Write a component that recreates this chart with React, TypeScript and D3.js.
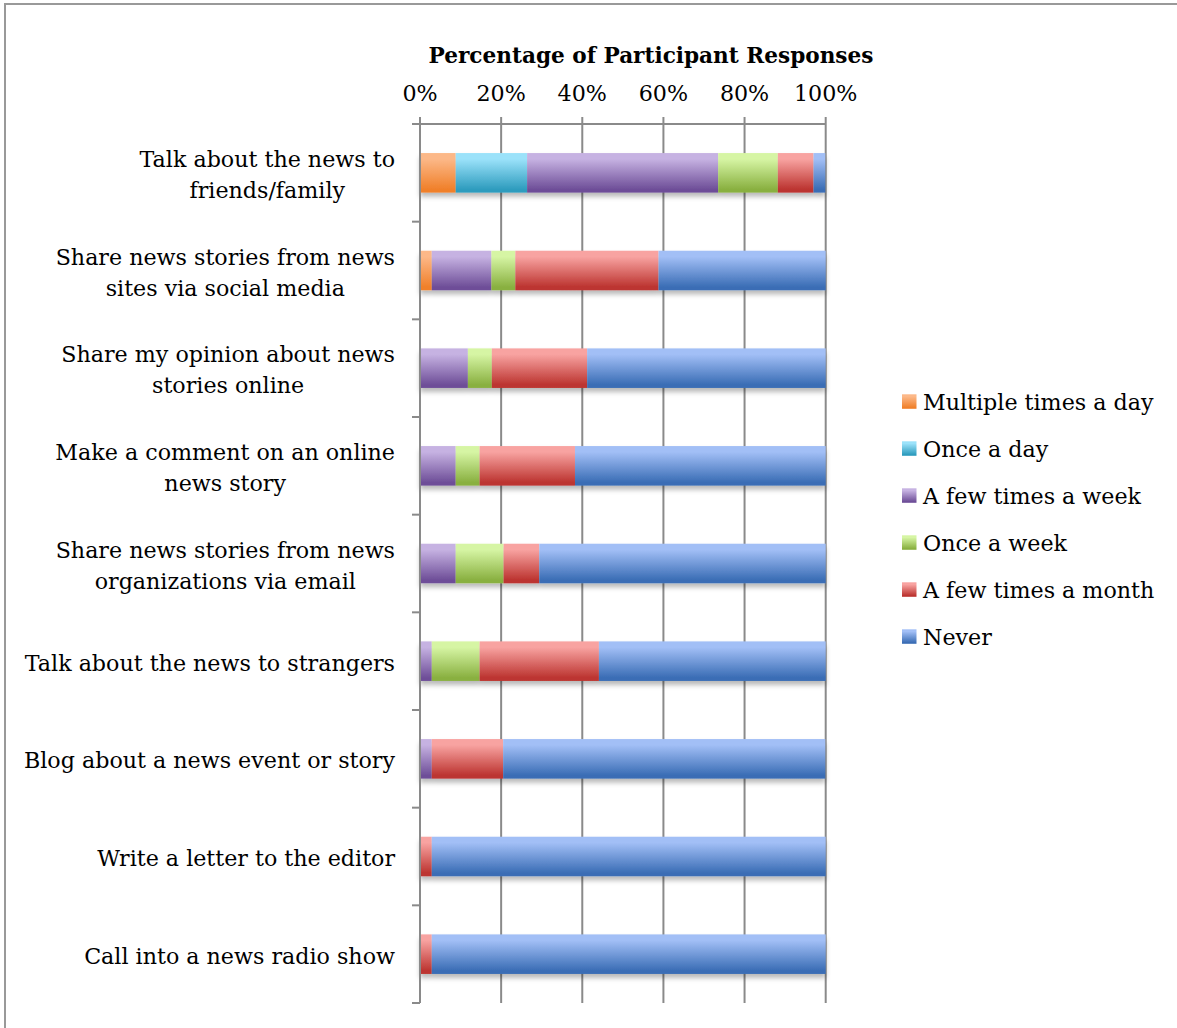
import React, { useEffect, useRef } from "react";
import * as d3 from "d3";

const categories = [
  "Talk about the news to friends/family",
  "Share news stories from news sites via social media",
  "Share my opinion about news stories online",
  "Make a comment on an online news story",
  "Share news stories from news organizations via email",
  "Talk about the news to strangers",
  "Blog about a news event or story",
  "Write a letter to the editor",
  "Call into a news radio show",
];

const labelLines = [
  ["Talk about the news to", "friends/family"],
  ["Share news stories from news", "sites via social media"],
  ["Share my opinion about news", "stories online"],
  ["Make a comment on an online", "news story"],
  ["Share news stories from news", "organizations via email"],
  ["Talk about the news to strangers"],
  ["Blog about a news event or story"],
  ["Write a letter to the editor"],
  ["Call into a news radio show"],
];

const seriesNames = [
  "Multiple times a day",
  "Once a day",
  "A few times a week",
  "Once a week",
  "A few times a month",
  "Never",
];

const multipleTimesADay = [8.8, 2.9, 0, 0, 0, 0, 0, 0, 0];
const onceADay = [17.6, 0, 0, 0, 0, 0, 0, 0, 0];
const aFewTimesAWeek = [47.1, 14.7, 11.8, 8.8, 8.8, 2.9, 2.9, 0, 0];
const onceAWeek = [14.7, 5.9, 5.9, 5.9, 11.8, 11.8, 0, 0, 0];
const aFewTimesAMonth = [8.8, 35.3, 23.5, 23.5, 8.8, 29.4, 17.6, 2.9, 2.9];
const never = [2.9, 41.2, 58.8, 61.8, 70.6, 55.9, 79.4, 97.1, 97.1];

const tickValues = [0, 20, 40, 60, 80, 100];

const colorTop = ["#FCB888", "#9BE2FA", "#C6B2E2", "#D6F5A4", "#F8A3A1", "#A2BFF6"];
const colorBottom = ["#F0802A", "#2E9CBE", "#6E4E98", "#89B040", "#BC3430", "#3A6DB5"];

const W = 1177;
const H = 1028;
const FONT = "'DejaVu Serif', serif";
const FS = 22.2;

export default function App() {
  const ref = useRef<SVGSVGElement | null>(null);

  useEffect(() => {
    const svg = d3.select(ref.current);
    svg.selectAll("*").remove();

    const seriesArrays = [multipleTimesADay, onceADay, aFewTimesAWeek, onceAWeek, aFewTimesAMonth, never];
    const rows = categories.map((c, i) => {
      const r: any = { category: c };
      seriesNames.forEach((s, j) => (r[s] = seriesArrays[j][i]));
      return r;
    });
    const stacked = d3.stack().keys(seriesNames)(rows);

    const x = d3.scaleLinear().domain([0, 100]).range([420, 825.7]);
    const y = d3
      .scaleBand<string>()
      .domain(categories)
      .range([124, 1003])
      .paddingInner(0.595)
      .paddingOuter(0.2975);

    const defs = svg.append("defs");
    seriesNames.forEach((s, j) => {
      const g = defs
        .append("linearGradient")
        .attr("id", "grad" + j)
        .attr("x1", 0)
        .attr("y1", 0)
        .attr("x2", 0)
        .attr("y2", 1);
      g.append("stop").attr("offset", "0%").attr("stop-color", colorTop[j]);
      g.append("stop").attr("offset", "15%").attr("stop-color", colorTop[j]);
      g.append("stop").attr("offset", "92%").attr("stop-color", colorBottom[j]);
      g.append("stop").attr("offset", "100%").attr("stop-color", colorBottom[j]);
    });
    const f = defs
      .append("filter")
      .attr("id", "shadow")
      .attr("x", "-5%")
      .attr("y", "-20%")
      .attr("width", "110%")
      .attr("height", "160%");
    f.append("feDropShadow")
      .attr("dx", 0)
      .attr("dy", 4)
      .attr("stdDeviation", 2.5)
      .attr("flood-color", "#000")
      .attr("flood-opacity", 0.28);

    // border
    svg
      .append("rect")
      .attr("x", 5)
      .attr("y", 4)
      .attr("width", W + 20)
      .attr("height", H + 20)
      .attr("fill", "none")
      .attr("stroke", "#999")
      .attr("stroke-width", 2);

    // gridlines
    svg
      .append("g")
      .selectAll("line")
      .data(tickValues)
      .join("line")
      .attr("x1", (d) => x(d))
      .attr("x2", (d) => x(d))
      .attr("y1", 117)
      .attr("y2", 1003)
      .attr("stroke", "#8a8a8a")
      .attr("stroke-width", 2);

    // top axis line
    svg
      .append("line")
      .attr("x1", 412)
      .attr("x2", x(100))
      .attr("y1", 124)
      .attr("y2", 124)
      .attr("stroke", "#8a8a8a")
      .attr("stroke-width", 2);

    // category ticks
    const bounds = d3.range(categories.length + 1).map((i) => 124 + i * y.step());
    svg
      .append("g")
      .selectAll("line")
      .data(bounds.slice(1))
      .join("line")
      .attr("x1", 412)
      .attr("x2", 420)
      .attr("y1", (d) => d)
      .attr("y2", (d) => d)
      .attr("stroke", "#8a8a8a")
      .attr("stroke-width", 2);

    // bars
    const barsG = svg.append("g");
    categories.forEach((c, i) => {
      const row = barsG.append("g").attr("filter", "url(#shadow)");
      stacked.forEach((layer, j) => {
        const d = layer[i];
        const w = x(d[1]) - x(d[0]);
        if (w <= 0) return;
        row
          .append("rect")
          .attr("x", x(d[0]))
          .attr("y", y(c)!)
          .attr("width", w)
          .attr("height", y.bandwidth())
          .attr("fill", `url(#grad${j})`);
      });
    });

    // 0% axis line on top of bars
    svg
      .append("line")
      .attr("x1", 420)
      .attr("x2", 420)
      .attr("y1", 117)
      .attr("y2", 1003)
      .attr("stroke", "#8a8a8a")
      .attr("stroke-width", 2);

    // title
    svg
      .append("text")
      .attr("x", 651)
      .attr("y", 63)
      .attr("text-anchor", "middle")
      .attr("font-family", FONT)
      .attr("font-weight", "bold")
      .attr("font-size", 21.6)
      .attr("fill", "#000")
      .text("Percentage of Participant Responses");

    // tick labels
    svg
      .append("g")
      .selectAll("text")
      .data(tickValues)
      .join("text")
      .attr("x", (d) => x(d))
      .attr("y", 100.5)
      .attr("text-anchor", "middle")
      .attr("font-family", FONT)
      .attr("font-size", FS)
      .attr("fill", "#000")
      .text((d) => d + "%");

    // category labels
    categories.forEach((c, i) => {
      const lines = labelLines[i];
      const cy = y(c)! + y.bandwidth() / 2;
      const g = svg.append("g");
      const lh = 31;
      const texts = lines.map((ln, k) =>
        g
          .append("text")
          .attr("x", 0)
          .attr("y", cy + (k - (lines.length - 1) / 2) * lh + 9.5)
          .attr("text-anchor", "middle")
          .attr("font-family", FONT)
          .attr("font-size", FS)
          .attr("fill", "#000")
          .text(ln)
      );
      const maxW = d3.max(texts, (t) => (t.node() as SVGTextElement).getComputedTextLength()) || 0;
      g.attr("transform", `translate(${395 - maxW / 2},0)`);
    });

    // legend
    const lg = svg.append("g");
    seriesNames.forEach((s, j) => {
      const cy = 401.3 + j * 47;
      lg.append("rect")
        .attr("x", 902)
        .attr("y", cy - 7)
        .attr("width", 14.5)
        .attr("height", 14.5)
        .attr("fill", `url(#grad${j})`);
      lg.append("text")
        .attr("x", 923)
        .attr("y", cy + 9)
        .attr("font-family", FONT)
        .attr("font-size", FS)
        .attr("fill", "#000")
        .text(s);
    });
  }, []);

  return (
    <div style={{ position: "absolute", left: 0, top: 0 }}>
      <svg ref={ref} width={W} height={H} style={{ display: "block", background: "#fff" }} />
    </div>
  );
}
